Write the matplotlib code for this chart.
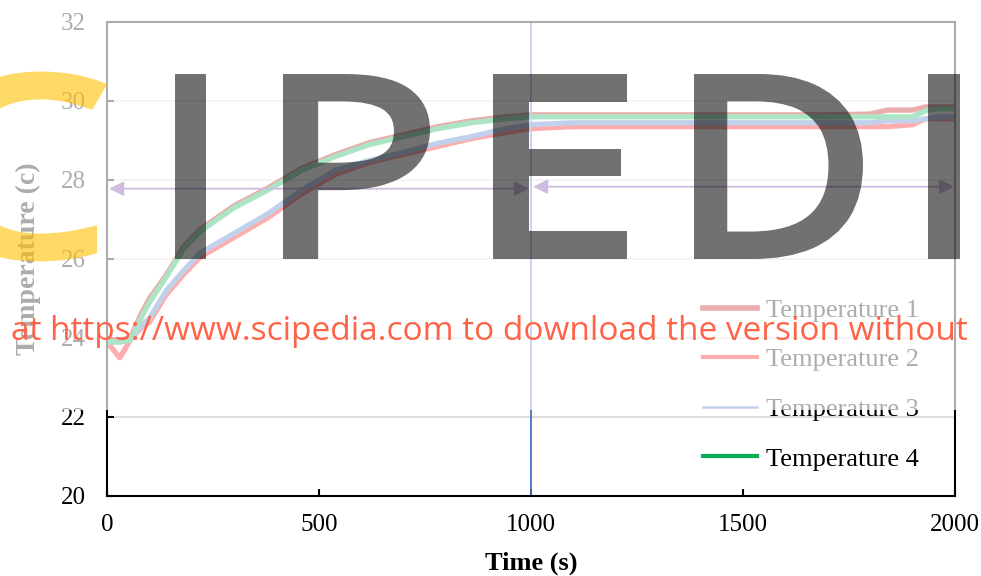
import matplotlib
matplotlib.use("Agg")
import matplotlib.pyplot as plt
from matplotlib.lines import Line2D
from matplotlib.patches import Rectangle, PathPatch
from matplotlib.textpath import TextPath
from matplotlib.font_manager import FontProperties
from matplotlib.transforms import Affine2D

# data
time_s = [0, 30, 55, 80, 100, 140, 180, 220, 260, 300, 380, 460, 540, 620, 700,
          780, 860, 940, 1000, 1100, 1200, 1300, 1400, 1500, 1600, 1700, 1800,
          1840, 1900, 1930, 1960, 2000]
temp1 = [23.95, 23.95, 24.0, 24.6, 25.0, 25.6, 26.3, 26.75, 27.05, 27.35, 27.8,
         28.3, 28.65, 28.95, 29.15, 29.35, 29.5, 29.6, 29.65, 29.65, 29.65, 29.65,
         29.65, 29.65, 29.65, 29.65, 29.67, 29.77, 29.77, 29.85, 29.85, 29.85]
temp2 = [23.9, 23.5, 23.95, 24.25, 24.4, 25.1, 25.6, 26.05, 26.3, 26.55, 27.05,
         27.65, 28.15, 28.45, 28.65, 28.85, 29.05, 29.2, 29.3, 29.35, 29.35, 29.35,
         29.35, 29.35, 29.35, 29.35, 29.35, 29.35, 29.4, 29.55, 29.55, 29.55]
temp3 = [23.9, 23.9, 23.95, 24.3, 24.5, 25.2, 25.7, 26.15, 26.4, 26.65, 27.15,
         27.75, 28.25, 28.5, 28.7, 28.93, 29.1, 29.3, 29.4, 29.45, 29.45, 29.45,
         29.45, 29.45, 29.45, 29.45, 29.45, 29.5, 29.5, 29.55, 29.6, 29.6]
temp4 = [23.9, 23.9, 23.95, 24.5, 24.9, 25.55, 26.25, 26.7, 27.0, 27.3, 27.75,
         28.25, 28.6, 28.9, 29.1, 29.3, 29.45, 29.55, 29.6, 29.6, 29.6, 29.6,
         29.6, 29.6, 29.6, 29.6, 29.6, 29.6, 29.6, 29.75, 29.8, 29.8]
labels = ["Temperature 1", "Temperature 2", "Temperature 3", "Temperature 4"]
colors = ["#C00000", "#FF0000", "#4472C4", "#00B050"]

marker_t = 1000
arrow1 = ([5, 995], 27.78)
arrow2 = ([1005, 1998], 27.83)

W, H = 981, 576

plt.rcParams["font.family"] = ["Liberation Serif", "DejaVu Serif"]

fig = plt.figure(figsize=(W / 100, H / 100), dpi=100)
ax = fig.add_axes([107 / W, 80 / H, 848 / W, 474 / H])

for series, c in zip([temp1, temp2, temp3, temp4], colors):
    ax.plot(time_s, series, color=c, lw=3.8, solid_joinstyle="round")

ax.axvline(marker_t, color="#4472C4", lw=1.3)

for (xs, yv) in [arrow1, arrow2]:
    ax.annotate("", xy=(xs[1], yv), xytext=(xs[0], yv),
                arrowprops=dict(arrowstyle="<|-|>", color="#7030A0", lw=1.3,
                                mutation_scale=22, shrinkA=0, shrinkB=0))

ax.set_xlim(0, 2000)
ax.set_ylim(20, 32)
ax.set_xticks([0, 500, 1000, 1500, 2000])
ax.set_yticks([20, 22, 24, 26, 28, 30, 32])
ax.grid(axis="y", color="#D9D9D9", lw=1.2)
ax.set_axisbelow(True)
ax.tick_params(direction="in", length=5, width=1.5, labelsize=18)
ax.tick_params(axis="y", pad=15)
ax.tick_params(axis="x", pad=13)
for s in ax.spines.values():
    s.set_linewidth(1.5)
    s.set_color("black")

ax.set_xlabel("Time (s)", fontsize=19, fontweight="bold", labelpad=11)
ax.set_ylabel("Temperature (c)", fontsize=20, fontweight="bold")
ax.yaxis.set_label_coords(-0.078, 0.5)

handles = [Line2D([], [], color=colors[0], lw=4),
           Line2D([], [], color=colors[1], lw=3),
           Line2D([], [], color=colors[2], lw=1.8),
           Line2D([], [], color=colors[3], lw=3)]
ax.legend(handles, labels, loc="upper left", bbox_to_anchor=(0.703, 0.417),
          frameon=False, fontsize=19, labelspacing=0.99, handlelength=2.05,
          handletextpad=0.35, borderpad=0, borderaxespad=0)

# watermark layers: white veil over the top part, then the big letters, then the link
fig.patches.append(Rectangle((0, 166 / H), 1, 410 / H, transform=fig.transFigure,
                             facecolor="white", alpha=0.68, edgecolor="none", zorder=5))


def fade(alpha):
    # apply one alpha to the whole rendered glyph, so fill and outline don't stack
    def f(im, dpi):
        out = im.copy()
        out[..., 3] *= alpha
        return out, 0, 0
    return f


wm_font = FontProperties(family="Open Sans")
grow = 10  # px added by the outline stroke
base_y = H - 259 + grow / 2
cap_px = 185 - grow
ref_I = TextPath((0, 0), "I", size=100, prop=wm_font).get_extents()
sy = cap_px / ref_I.height
stroke_pt = grow * 72 / 100

# (letter, left px, right px)
letters = [("I", 175, 206), ("P", 283, 430), ("E", 493, 627),
           ("D", 694, 863), ("I", 928, 960)]
for ch, x0, x1 in letters:
    p = TextPath((0, 0), ch, size=100, prop=wm_font)
    ext = p.get_extents()
    x0i, x1i = x0 + grow / 2, x1 - grow / 2
    sx = (x1i - x0i) / ext.width
    tr = Affine2D().translate(-ext.x0, 0).scale(sx, sy).translate(x0i, base_y)
    patch = PathPatch(p, transform=tr, facecolor="black", edgecolor="black",
                      lw=stroke_pt, joinstyle="miter", zorder=6)
    patch.set_agg_filter(fade(0.56))
    fig.add_artist(patch)

# the yellow C, only its right part is on the canvas
pc = TextPath((0, 0), "C", size=100, prop=wm_font)
ext = pc.get_extents()
sx_c = (147 - grow) / (TextPath((0, 0), "P", size=100, prop=wm_font).get_extents().width)
tr = Affine2D().translate(-ext.x1, 0).scale(sx_c, sy).translate(105 - grow / 2, base_y)
cpatch = PathPatch(pc, transform=tr, facecolor="#FFC000", edgecolor="#FFC000",
                   lw=stroke_pt, joinstyle="miter", zorder=7)
cpatch.set_agg_filter(fade(0.6))
fig.add_artist(cpatch)

fig.text(11 / W, 236 / H, "at https://www.scipedia.com to download the version without",
         family="Open Sans", fontsize=24, color="#FF6347", va="baseline", ha="left",
         zorder=8)

fig.savefig("out.png", dpi=100)
